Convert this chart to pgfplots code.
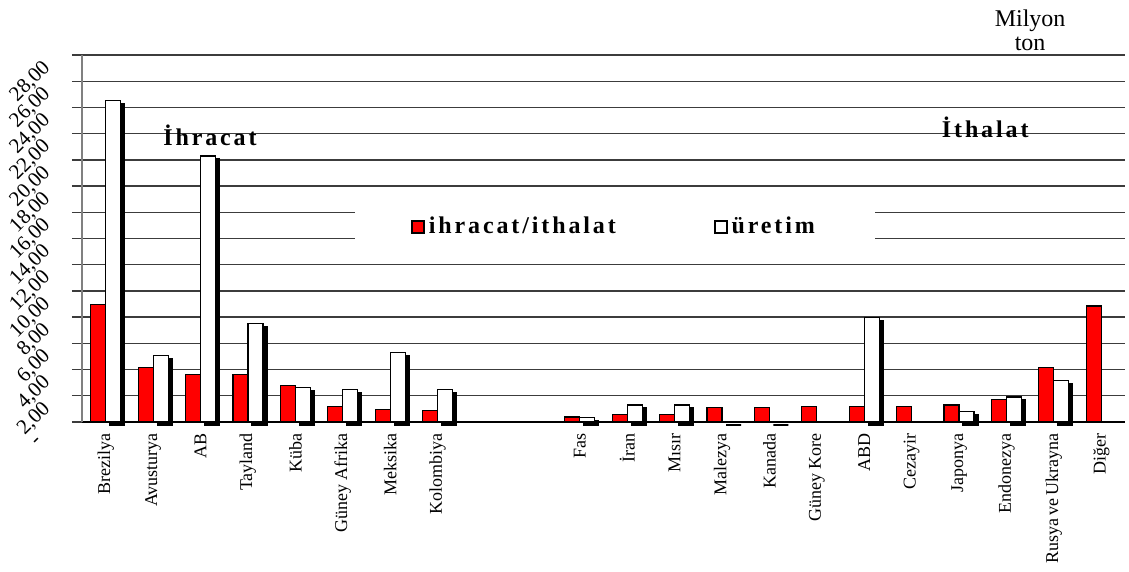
\documentclass[border=0pt]{standalone}
\usepackage{fontspec}
\setmainfont{Liberation Serif}
\newfontfamily\spaced[LetterSpace=12]{Liberation Serif}
\usepackage{pgfplots}
\pgfplotsset{compat=1.18}
\usepackage{pgfplotstable}

\definecolor{gridc}{HTML}{3C3C3C}

% milyon ton; nan = no bar
\pgfplotstableread{
x  red   white
0  8.95  24.5
1  4.15  5.05
2  3.65  20.3
3  3.65  7.5
4  2.8   2.65
5  1.2   2.45
6  0.95  5.3
7  0.9   2.45
10 0.38  0.33
11 0.58  1.3
12 0.58  1.3
13 1.1   0
14 1.1   0
15 1.2   nan
16 1.2   8.0
17 1.2   nan
18 1.3   0.8
19 1.72  1.9
20 4.17  3.16
21 8.85  nan
}\sugar

\begin{document}
\begin{tikzpicture}
\begin{axis}[
  scale only axis, width=521.5pt, height=183.5pt,
  ybar, bar width=7.5pt,
  xmin=-0.5, xmax=21.5, ymin=0, ymax=28,
  axis y line*=left, axis x line*=bottom,
  y axis line style={draw=gray, line width=1pt},
  x axis line style={draw=black, line width=0.8pt},
  ytick={0,2,...,28},
  yticklabels={{\raisebox{-3pt}{-}\rule{5pt}{0pt}},{2,00},{4,00},{6,00},{8,00},{10,00},{12,00},{14,00},{16,00},{18,00},{20,00},{22,00},{24,00},{26,00},{28,00}},
  yticklabel style={xshift=-10pt, yshift=-2.5pt, rotate=45, anchor=east, font=\fontsize{10.5}{12}\selectfont},
  ymajorgrids, major grid style={draw=gridc, line width=0.7pt},
  ytick style={draw=gridc, line width=0.7pt},
  tick align=outside, major tick length=5pt,
  xtick={0,1,2,3,4,5,6,7,10,11,12,13,14,15,16,17,18,19,20,21},
  xticklabels={Brezilya,Avusturya,AB,Tayland,Küba,Güney Afrika,Meksika,Kolombiya,Fas,İran,Mısır,Malezya,Kanada,Güney Kore,ABD,Cezayir,Japonya,Endonezya,Rusya\kern1.5pt ve\kern1.5pt Ukrayna,Diğer},
  xticklabel style={yshift=3pt, rotate=90, anchor=east, font=\fontsize{9}{10}\selectfont},
  xtick style={draw=none},
  unbounded coords=discard,
  clip=false,
  legend columns=2,
  legend style={at={(rel axis cs:0.511,0.531)}, anchor=center, draw=none, fill=none,
    font=\spaced\bfseries\fontsize{12}{14}\selectfont,
    /tikz/every even column/.append style={column sep=47pt}},
  legend image code/.code={\draw[#1,line width=0.9pt] (0pt,-3pt) rectangle (6pt,3pt);},
]
\fill[white] (rel axis cs:0.262,0.455) rectangle (rel axis cs:0.760,0.600);
\addplot[fill=red, draw=black, line width=0.6pt, bar shift=-3.75pt] table[x=x,y=red]{\sugar};
\addlegendentry{ihracat/ithalat}
\addplot[fill=black, draw=black, line width=0.6pt, bar shift=5.75pt, yshift=-1.5pt, forget plot] table[x=x,y=white]{\sugar};
\addplot[fill=white, draw=black, line width=0.6pt, bar shift=3.75pt] table[x=x,y=white]{\sugar};
\addlegendentry{üretim}
\node[font=\spaced\bfseries\fontsize{12}{14}\selectfont] at (rel axis cs:0.1227,0.782) {İhracat};
\node[font=\spaced\bfseries\fontsize{12}{14}\selectfont] at (rel axis cs:0.866,0.804) {İthalat};
\node[font=\fontsize{12}{12}\selectfont, align=center] at (rel axis cs:0.909,1.068) {Milyon\\ton};
\end{axis}
\pgfresetboundingbox
\useasboundingbox (-41pt,-75pt) rectangle (523.5pt,211pt);
\end{tikzpicture}
\end{document}
